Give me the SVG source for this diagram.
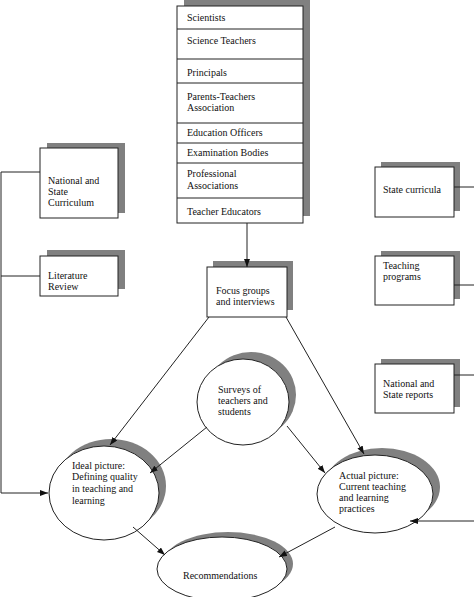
<svg xmlns="http://www.w3.org/2000/svg" width="474" height="597" viewBox="0 0 474 597">
<style>
text{font-family:"Liberation Serif","Times New Roman",serif;font-size:10px;fill:#111}
.box{fill:#fff;stroke:#222;stroke-width:1}
.sh{fill:#808080;stroke:none}
.ln{stroke:#222;stroke-width:1;fill:none}
.ar{stroke:#222;stroke-width:1;fill:none;marker-end:url(#ah)}
</style>
<defs>
<marker id="ah" markerUnits="userSpaceOnUse" markerWidth="9" markerHeight="7" refX="8" refY="3" orient="auto">
<path d="M0,0 L8,3 L0,6 z" fill="#111"/>
</marker>
</defs>
<rect width="474" height="597" fill="#fff"/>

<g id="stakeholders">
<rect class="sh" x="184" y="-1" width="126" height="217"/>
<rect class="box" x="177" y="6" width="126" height="217"/>
<line class="ln" x1="177" y1="29" x2="303" y2="29"/>
<line class="ln" x1="177" y1="59" x2="303" y2="59"/>
<line class="ln" x1="177" y1="83" x2="303" y2="83"/>
<line class="ln" x1="177" y1="123" x2="303" y2="123"/>
<line class="ln" x1="177" y1="143" x2="303" y2="143"/>
<line class="ln" x1="177" y1="163" x2="303" y2="163"/>
<line class="ln" x1="177" y1="198" x2="303" y2="198"/>
<text x="187" y="21">Scientists</text>
<text x="187" y="44">Science Teachers</text>
<text x="187" y="76">Principals</text>
<text x="187" y="100">Parents-Teachers</text>
<text x="187" y="111">Association</text>
<text x="187" y="136">Education Officers</text>
<text x="187" y="156">Examination Bodies</text>
<text x="187" y="177">Professional</text>
<text x="187" y="189">Associations</text>
<text x="187" y="215">Teacher Educators</text>
</g>

<g id="national-state-curriculum">
<rect class="sh" x="47" y="143" width="78" height="70"/>
<rect class="box" x="40" y="148" width="78" height="70"/>
<text x="48" y="184">National and</text>
<text x="48" y="195">State</text>
<text x="48" y="206">Curriculum</text>
</g>

<g id="literature-review">
<rect class="sh" x="47" y="250" width="78" height="39"/>
<rect class="box" x="40" y="256" width="78" height="40"/>
<text x="48" y="279">Literature</text>
<text x="48" y="290">Review</text>
</g>

<g id="state-curricula">
<rect class="sh" x="381" y="162" width="79" height="49"/>
<rect class="box" x="375" y="167" width="79" height="50"/>
<text x="383" y="193">State curricula</text>
</g>

<g id="teaching-programs">
<rect class="sh" x="381" y="251" width="79" height="48"/>
<rect class="box" x="375" y="256" width="79" height="49"/>
<text x="383" y="269">Teaching</text>
<text x="383" y="280">programs</text>
</g>

<g id="national-state-reports">
<rect class="sh" x="381" y="359" width="79" height="48"/>
<rect class="box" x="375" y="364" width="79" height="49"/>
<text x="383" y="387">National and</text>
<text x="383" y="398">State reports</text>
</g>

<g id="focus-groups">
<rect class="sh" x="213" y="261" width="80" height="49"/>
<rect class="box" x="207" y="267" width="80" height="50"/>
<text x="216" y="294">Focus groups</text>
<text x="216" y="305">and interviews</text>
</g>

<g id="surveys">
<ellipse class="sh" cx="251" cy="395" rx="45" ry="43"/>
<ellipse class="box" cx="243" cy="402" rx="46" ry="43"/>
<text x="218" y="393">Surveys of</text>
<text x="218" y="404">teachers and</text>
<text x="218" y="415">students</text>
</g>

<g id="ideal-picture">
<ellipse class="sh" cx="111" cy="486" rx="55" ry="47"/>
<ellipse class="box" cx="104" cy="493" rx="55" ry="47"/>
<text x="72" y="469">Ideal picture:</text>
<text x="72" y="480">Defining quality</text>
<text x="72" y="492">in teaching and</text>
<text x="72" y="504">learning</text>
</g>

<g id="actual-picture">
<ellipse class="sh" cx="382" cy="487" rx="58" ry="39"/>
<ellipse class="box" cx="375" cy="494" rx="58" ry="39"/>
<text x="339" y="479">Actual picture:</text>
<text x="339" y="490">Current teaching</text>
<text x="339" y="501">and learning</text>
<text x="339" y="512">practices</text>
</g>

<g id="recommendations">
<ellipse class="sh" cx="228" cy="564" rx="65" ry="32"/>
<ellipse class="box" cx="222" cy="569" rx="65" ry="32"/>
<text x="183" y="579">Recommendations</text>
</g>

<g id="connectors">
<line class="ar" x1="247" y1="223" x2="247" y2="267"/>
<polyline class="ln" points="40,172 1,172 1,493"/>
<line class="ln" x1="1" y1="276" x2="40" y2="276"/>
<line class="ar" x1="1" y1="493" x2="48" y2="493"/>
<line class="ln" x1="454" y1="187" x2="474" y2="187"/>
<line class="ln" x1="454" y1="285" x2="474" y2="285"/>
<line class="ln" x1="454" y1="375" x2="474" y2="375"/>
<line class="ar" x1="474" y1="521" x2="410" y2="521"/>
<line class="ar" x1="209" y1="317" x2="110" y2="445"/>
<line class="ar" x1="207" y1="427" x2="150" y2="473"/>
<line class="ar" x1="286" y1="317" x2="364" y2="454"/>
<line class="ar" x1="287" y1="426" x2="325" y2="473"/>
<line class="ar" x1="133" y1="527" x2="165" y2="555"/>
<line class="ar" x1="335" y1="527" x2="279" y2="557"/>
</g>
</svg>
